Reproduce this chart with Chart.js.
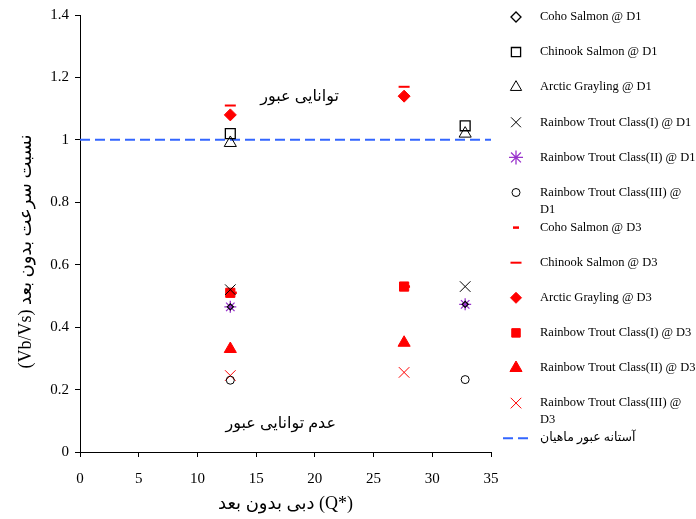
<!DOCTYPE html>
<html lang="fa">
<head>
<meta charset="UTF-8">
<title>Vb/Vs vs Q*</title>
<script src="https://cdn.jsdelivr.net/npm/chart.js"></script>
<style>
 body { margin: 0; background: #fff; }
 .wrap { width: 696px; height: 519px; position: relative; }
</style>
</head>
<body>
<div class="wrap"><canvas id="chart"></canvas></div>
<script>
// x positions of the measured columns
const xD1 = [12.8, 32.8];
const xD3 = [12.8, 27.6];
const xCohoD3 = [13.1, 27.85];

// Vb/Vs values
const cohoD1 = [0.465, 0.473];
const chinookD1 = [1.02, 1.045];
const arcticD1 = [0.99, 1.02];
const troutID1 = [0.52, 0.53];
const troutIID1 = [0.465, 0.473];
const troutIIID1 = [0.23, 0.232];
const cohoD3 = [0.51, 0.53];
const chinookD3 = [1.11, 1.17];
const arcticD3 = [1.08, 1.14];
const troutID3 = [0.51, 0.53];
const troutIID3 = [0.33, 0.35];
const troutIIID3 = [0.245, 0.255];

// threshold line
const thresholdX = [0, 35];
const thresholdY = [1, 1];

// axis ranges
const xMin = 0, xMax = 35, xStep = 5;
const yMin = 0, yMax = 1.4, yStep = 0.2;

const serif = "'Liberation Serif', 'DejaVu Sans', serif";
const red = '#ff0000';
const purple = '#9933cc';
const blue = '#3366ff';

function pts(xs, ys) {
  return ys.map((y, i) => ({ x: xs[i], y: y }));
}

function marker(label, xs, ys, style, radius, color, filled, width, legendRadius) {
  return {
    label: label,
    data: pts(xs, ys),
    pointStyle: style,
    pointRadius: radius,
    pointHoverRadius: radius,
    pointBorderWidth: width || 1,
    borderColor: color,
    backgroundColor: filled ? color : 'rgba(0,0,0,0)',
    showLine: false,
    legendRadius: legendRadius || radius
  };
}

const datasets = [
  marker('Coho Salmon @ D1', xD1, cohoD1, 'rectRot', 3, '#000', false, 1.3, 5),
  marker('Chinook Salmon @ D1', xD1, chinookD1, 'rect', 7, '#000', false, 1.3, 6.5),
  marker('Arctic Grayling @ D1', xD1, arcticD1, 'triangle', 7, '#000', false, 1, 6.5),
  marker('Rainbow Trout Class(I) @ D1', xD1, troutID1, 'crossRot', 7.5, '#000', false, 1, 7),
  marker('Rainbow Trout Class(II) @ D1', xD1, troutIID1, 'star', 6, purple, false, 1.3, 7),
  marker('Rainbow Trout Class(III) @ D1', xD1, troutIIID1, 'circle', 4, '#000', false, 1, 4),
  marker('Coho Salmon @ D3', xCohoD3, cohoD3, 'line', 3, red, false, 2.5, 3),
  marker('Chinook Salmon @ D3', xD3, chinookD3, 'line', 5.5, red, false, 2, 5.5),
  marker('Arctic Grayling @ D3', xD3, arcticD3, 'rectRot', 6, red, true, 1, 5.5),
  marker('Rainbow Trout Class(I) @ D3', xD3, troutID3, 'rect', 6.5, red, true, 1, 6),
  marker('Rainbow Trout Class(II) @ D3', xD3, troutIID3, 'triangle', 7, red, true, 1, 7),
  marker('Rainbow Trout Class(III) @ D3', xD3, troutIIID3, 'crossRot', 7.5, red, false, 1, 7.5),
  {
    label: 'آستانه عبور ماهیان',
    data: pts(thresholdX, thresholdY),
    showLine: true,
    pointRadius: 0,
    borderColor: blue,
    borderWidth: 2,
    borderDash: [10, 5],
    isThreshold: true
  }
];

// right side legend, drawn like the original (wrapped labels)
const sideLegend = {
  id: 'sideLegend',
  afterDraw(chart) {
    const ctx = chart.ctx;
    const top = 17, step = 35.1, markX = 516, textX = 540, maxW = 158;
    ctx.save();
    ctx.font = '12.5px ' + serif;
    ctx.textBaseline = 'middle';
    chart.data.datasets.forEach((ds, i) => {
      const y = top + i * step;
      if (ds.isThreshold) {
        ctx.strokeStyle = ds.borderColor;
        ctx.lineWidth = 2;
        ctx.setLineDash([10, 5]);
        ctx.beginPath();
        ctx.moveTo(503, y);
        ctx.lineTo(533, y);
        ctx.stroke();
        ctx.setLineDash([]);
      } else {
        ctx.strokeStyle = ds.borderColor;
        ctx.fillStyle = ds.backgroundColor;
        ctx.lineWidth = ds.pointBorderWidth;
        Chart.helpers.drawPoint(ctx, {
          pointStyle: ds.pointStyle,
          radius: ds.legendRadius,
          rotation: 0,
          borderWidth: ds.pointBorderWidth
        }, markX, y);
      }
      ctx.fillStyle = '#000';
      const text = ds.label;
      if (ctx.measureText(text).width > maxW) {
        const cut = text.lastIndexOf(' ');
        ctx.fillText(text.slice(0, cut), textX, y);
        ctx.fillText(text.slice(cut + 1), textX, y + 17);
      } else {
        ctx.fillText(text, textX, y);
      }
    });
    ctx.restore();
  }
};

// region captions inside the plot
const captions = {
  id: 'captions',
  afterDatasetsDraw(chart) {
    const ctx = chart.ctx, sx = chart.scales.x, sy = chart.scales.y;
    ctx.save();
    ctx.font = '16px ' + serif;
    ctx.fillStyle = '#000';
    ctx.textAlign = 'center';
    ctx.textBaseline = 'middle';
    ctx.fillText('توانایی عبور', sx.getPixelForValue(18.7), sy.getPixelForValue(1.138));
    ctx.fillText('عدم توانایی عبور', sx.getPixelForValue(17.1), sy.getPixelForValue(0.09));
    ctx.restore();
  }
};

new Chart(document.getElementById('chart'), {
  type: 'scatter',
  data: { datasets: datasets },
  options: {
    responsive: true,
    maintainAspectRatio: false,
    animation: false,
    layout: { padding: { top: 15, right: 205, left: 0, bottom: 0 } },
    plugins: {
      legend: { display: false },
      tooltip: { enabled: false }
    },
    scales: {
      x: {
        type: 'linear',
        min: xMin, max: xMax,
        afterFit: s => { s.height = 67; },
        ticks: { stepSize: xStep, color: '#000', padding: 13, font: { family: serif, size: 15 } },
        grid: { drawOnChartArea: false, drawTicks: true, tickLength: 5, color: '#000' },
        border: { color: '#000', width: 1 },
        title: {
          display: true,
          text: '\u200Eدبی بدون بعد (Q*)',
          color: '#000',
          padding: { top: 0, bottom: 4 },
          font: { family: serif, size: 18 }
        }
      },
      y: {
        type: 'linear',
        min: yMin, max: yMax,
        afterFit: s => { s.width = 80; },
        ticks: {
          stepSize: yStep, color: '#000', padding: 6, font: { family: serif, size: 15 },
          callback: v => String(Math.round(v * 10) / 10)
        },
        grid: { drawOnChartArea: false, drawTicks: true, tickLength: 5, color: '#000' },
        border: { color: '#000', width: 1 },
        title: {
          display: true,
          text: '\u200E(Vb/Vs) نسبت سرعت بدون بعد\u2003\u2003',
          color: '#000',
          padding: { top: 15, bottom: 0 },
          font: { family: serif, size: 18 }
        }
      }
    }
  },
  plugins: [sideLegend, captions]
});
</script>
</body>
</html>
